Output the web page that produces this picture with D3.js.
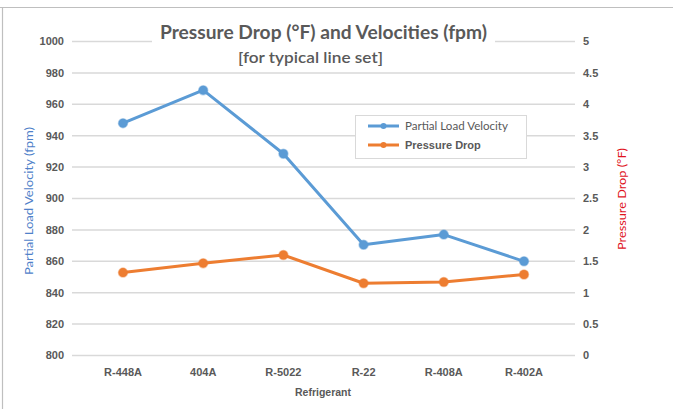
<!DOCTYPE html>
<html>
<head>
<meta charset="utf-8">
<script src="https://cdn.jsdelivr.net/npm/d3@7.9.0/dist/d3.min.js"></script>
<style>
  body { margin: 0; background: #fff; }
  text { font-family: "Liberation Sans", Arial, sans-serif; }
  .soft { font-family: Lato, "Open Sans", sans-serif; }
</style>
</head>
<body>
<svg id="chart" width="673" height="409"></svg>
<script>
const categories = ["R-448A", "404A", "R-5022", "R-22", "R-408A", "R-402A"];
const velocity = [948, 969, 928.5, 870.5, 877, 860];
const pressureDrop = [1.32, 1.47, 1.6, 1.15, 1.17, 1.29];
const velocityTicks = d3.range(800, 1001, 20);
const dropTicks = d3.range(0, 5.01, 0.5);

const blue = "#5b9bd5";
const orange = "#ed7d31";
const grey = "#595959";

const svg = d3.select("#chart");

svg.append("rect").attr("width", 673).attr("height", 409).attr("fill", "#fff");

// frame of the chart object (top and left edges are visible)
svg.append("line").attr("x1", 0).attr("x2", 673).attr("y1", 7.5).attr("y2", 7.5)
    .attr("stroke", "#bfbfbf").attr("stroke-width", 1.2);
svg.append("line").attr("x1", 2.5).attr("x2", 2.5).attr("y1", 7).attr("y2", 409)
    .attr("stroke", "#bfbfbf").attr("stroke-width", 1.2);

let x = d3.scalePoint().domain(categories).range([123, 524]);
let yLeft = d3.scaleLinear().domain([800, 1000]).range([355.5, 41.5]);
let yRight = d3.scaleLinear().domain([0, 5]).range([355.5, 41.5]);

// gridlines
svg.append("g").selectAll("line")
    .data(velocityTicks)
    .join("line")
    .attr("x1", 72).attr("x2", 575)
    .attr("y1", d => yLeft(d)).attr("y2", d => yLeft(d))
    .attr("stroke", "#d9d9d9").attr("stroke-width", 1.5);

// left ticks
svg.append("g").selectAll("text")
    .data(velocityTicks)
    .join("text")
    .attr("x", 64).attr("y", d => yLeft(d)).attr("dy", "0.35em")
    .attr("text-anchor", "end")
    .attr("font-size", 11).attr("font-weight", "bold").attr("fill", grey)
    .text(d => d);

// right ticks
svg.append("g").selectAll("text")
    .data(dropTicks)
    .join("text")
    .attr("x", 583).attr("y", d => yRight(d)).attr("dy", "0.35em")
    .attr("font-size", 11).attr("font-weight", "bold").attr("fill", grey)
    .text(d => d);

// category labels
svg.append("g").selectAll("text")
    .data(categories)
    .join("text")
    .attr("x", d => x(d)).attr("y", 372).attr("dy", "0.35em")
    .attr("text-anchor", "middle")
    .attr("font-size", 11).attr("font-weight", "bold").attr("fill", grey)
    .text(d => d);

svg.append("text")
    .attr("x", 323).attr("y", 392).attr("dy", "0.35em")
    .attr("text-anchor", "middle")
    .attr("font-size", 10.5).attr("font-weight", "bold").attr("fill", grey)
    .text("Refrigerant");

// axis titles
svg.append("text").attr("class", "soft")
    .attr("transform", "translate(29,201) rotate(-90)")
    .attr("dy", "0.35em").attr("text-anchor", "middle")
    .attr("font-size", 12).attr("fill", "#4f81c9")
    .attr("textLength", 148).attr("lengthAdjust", "spacingAndGlyphs")
    .text("Partial Load Velocity (fpm)");

svg.append("text").attr("class", "soft")
    .attr("transform", "translate(622,199) rotate(-90)")
    .attr("dy", "0.35em").attr("text-anchor", "middle")
    .attr("font-size", 12).attr("fill", "#e0141e")
    .attr("textLength", 102).attr("lengthAdjust", "spacingAndGlyphs")
    .text("Pressure Drop (°F)");

// title, sitting on a white box over the top gridline
svg.append("rect").attr("x", 152).attr("y", 20).attr("width", 343).attr("height", 46).attr("fill", "#fff");
svg.append("text").attr("class", "soft")
    .attr("x", 323.5).attr("y", 33).attr("dy", "0.35em").attr("text-anchor", "middle")
    .attr("font-size", 18).attr("font-weight", "bold").attr("fill", grey)
    .attr("textLength", 327).attr("lengthAdjust", "spacingAndGlyphs")
    .text("Pressure Drop (°F) and Velocities (fpm)");
svg.append("text").attr("class", "soft")
    .attr("x", 310.5).attr("y", 57).attr("dy", "0.35em").attr("text-anchor", "middle")
    .attr("font-size", 16).attr("font-weight", 600).attr("fill", grey)
    .attr("textLength", 145).attr("lengthAdjust", "spacingAndGlyphs")
    .text("[for typical line set]");

// series
const series = [
    { name: "Partial Load Velocity", values: velocity, y: yLeft, color: blue },
    { name: "Pressure Drop", values: pressureDrop, y: yRight, color: orange }
];

series.forEach(s => {
    let line = d3.line()
        .x((d, i) => x(categories[i]))
        .y(d => s.y(d));
    svg.append("path")
        .attr("d", line(s.values))
        .attr("fill", "none")
        .attr("stroke", s.color)
        .attr("stroke-width", 3)
        .attr("stroke-linejoin", "round");
    svg.append("g").selectAll("circle")
        .data(s.values)
        .join("circle")
        .attr("cx", (d, i) => x(categories[i]))
        .attr("cy", d => s.y(d))
        .attr("r", 4.5)
        .attr("fill", s.color)
        .attr("stroke", s.color).attr("stroke-opacity", 0.45).attr("stroke-width", 1.5);
});

// legend
let legend = svg.append("g");
legend.append("rect")
    .attr("x", 355.5).attr("y", 115.5).attr("width", 171).attr("height", 43)
    .attr("fill", "#fff").attr("stroke", "#d9d9d9");

series.forEach((s, idx) => {
    let ly = 126 + idx * 19;
    legend.append("line")
        .attr("x1", 368).attr("x2", 399).attr("y1", ly).attr("y2", ly)
        .attr("stroke", s.color).attr("stroke-width", 3);
    legend.append("circle")
        .attr("cx", 383.5).attr("cy", ly).attr("r", 3)
        .attr("fill", s.color);
    let t = legend.append("text")
        .attr("x", 405).attr("y", ly).attr("dy", "0.35em")
        .attr("font-size", 11.5).attr("fill", grey)
        .text(s.name);
    if (idx === 1) {
        t.attr("font-weight", "bold")
         .attr("font-family", "'Liberation Sans Narrow', 'Liberation Sans', sans-serif")
         .attr("font-size", 11);
    } else {
        t.attr("class", "soft").attr("textLength", 103).attr("lengthAdjust", "spacingAndGlyphs");
    }
});
</script>
</body>
</html>
